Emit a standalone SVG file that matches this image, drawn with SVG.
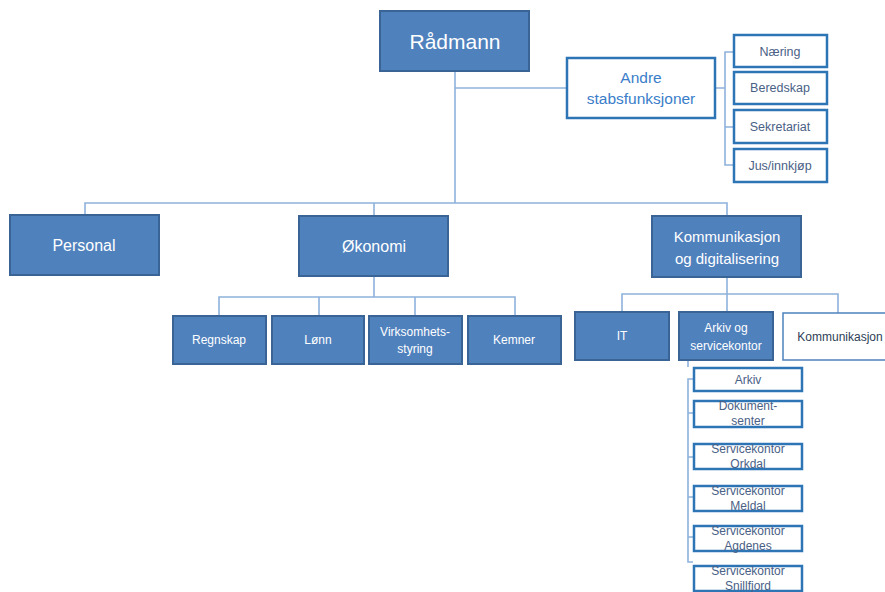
<svg xmlns="http://www.w3.org/2000/svg" width="885" height="592" viewBox="0 0 885 592">
<style>
.f{fill:#4F81BD;stroke:#3B6496;stroke-width:2}
.w{fill:#fff;stroke:#2E75B6;stroke-width:2.5}
.wt{fill:#fff;stroke:#4F81BD;stroke-width:1.5}
.c{fill:none;stroke:#8EB1DC;stroke-width:1.6}
text{font-family:"Liberation Sans","DejaVu Sans",sans-serif;text-anchor:middle}
.tw{fill:#fff}
.tb{fill:#3A7DC9}
.tg{fill:#4A6186}
.td{fill:#2E3E56}
</style>
<rect width="885" height="592" fill="#fff"/>
<g id="connectors" class="c">
<path d="M455 71V203M455 88H566"/>
<path d="M85 215V203H727V216M374 203V216"/>
<path d="M715 88H725M733 52H725V165H733M725 127H733"/>
<path d="M374 276V297M219 316V297H515V316M319 297V316M415 297V316"/>
<path d="M727 277V294M622 312V294H838V313M727 294V312"/>
<path d="M693 379H688V562H693M688 413H693M688 457H693M688 497H693M688 537H693"/>
<path d="M688 360V367"/>
</g>
<g id="radmann"><rect class="f" x="380" y="11" width="149" height="60"/><text class="tw" x="455" y="49" font-size="21">Rådmann</text></g>
<g id="andre"><rect class="w" x="567" y="58" width="148" height="60"/><text class="tb" x="641" y="83" font-size="15.5">Andre</text><text class="tb" x="641" y="104" font-size="15.5">stabsfunksjoner</text></g>
<g id="naering"><rect class="w" x="734" y="35" width="93" height="32"/><text class="tg" x="780" y="56" font-size="12.5">Næring</text></g>
<g id="beredskap"><rect class="w" x="734" y="72" width="93" height="32"/><text class="tg" x="780" y="92" font-size="12.5">Beredskap</text></g>
<g id="sekretariat"><rect class="w" x="734" y="110" width="93" height="33"/><text class="tg" x="780" y="131" font-size="12.5">Sekretariat</text></g>
<g id="jus"><rect class="w" x="734" y="149" width="93" height="33"/><text class="tg" x="780" y="170" font-size="12.5">Jus/innkjøp</text></g>
<g id="personal"><rect class="f" x="10" y="215" width="149" height="60"/><text class="tw" x="84" y="251" font-size="16">Personal</text></g>
<g id="okonomi"><rect class="f" x="299" y="216" width="149" height="60"/><text class="tw" x="374" y="252" font-size="16">Økonomi</text></g>
<g id="kommdig"><rect class="f" x="652" y="216" width="149" height="61"/><text class="tw" x="727" y="242" font-size="15">Kommunikasjon</text><text class="tw" x="727" y="264" font-size="15">og digitalisering</text></g>
<g id="regnskap"><rect class="f" x="173" y="316" width="93" height="48"/><text class="tw" x="219" y="344" font-size="12">Regnskap</text></g>
<g id="lonn"><rect class="f" x="272" y="316" width="92" height="48"/><text class="tw" x="318" y="344" font-size="12">Lønn</text></g>
<g id="virksomhet"><rect class="f" x="369" y="316" width="93" height="48"/><text class="tw" x="415" y="336" font-size="12">Virksomhets-</text><text class="tw" x="415" y="353" font-size="12">styring</text></g>
<g id="kemner"><rect class="f" x="468" y="316" width="93" height="48"/><text class="tw" x="514" y="344" font-size="12">Kemner</text></g>
<g id="it"><rect class="f" x="575" y="312" width="94" height="48"/><text class="tw" x="622" y="340" font-size="12">IT</text></g>
<g id="arkivservice"><rect class="f" x="679" y="312" width="94" height="48"/><text class="tw" x="726" y="332" font-size="12">Arkiv og</text><text class="tw" x="726" y="350" font-size="12">servicekontor</text></g>
<g id="kommunikasjon"><rect class="wt" x="783" y="313" width="110" height="47"/><text class="td" x="840" y="341" font-size="12">Kommunikasjon</text></g>
<g id="arkiv"><rect class="w" x="694" y="368" width="108" height="23"/><text class="tg" x="748" y="384" font-size="12">Arkiv</text></g>
<g id="dokument"><rect class="w" x="694" y="401" width="108" height="26"/><text class="tg" x="748" y="410" font-size="12">Dokument-</text><text class="tg" x="748" y="425" font-size="12">senter</text></g>
<g id="orkdal"><rect class="w" x="694" y="444" width="108" height="25"/><text class="tg" x="748" y="453" font-size="12">Servicekontor</text><text class="tg" x="748" y="468" font-size="12">Orkdal</text></g>
<g id="meldal"><rect class="w" x="694" y="486" width="108" height="25"/><text class="tg" x="748" y="495" font-size="12">Servicekontor</text><text class="tg" x="748" y="510" font-size="12">Meldal</text></g>
<g id="agdenes"><rect class="w" x="694" y="526" width="108" height="25"/><text class="tg" x="748" y="535" font-size="12">Servicekontor</text><text class="tg" x="748" y="550" font-size="12">Agdenes</text></g>
<g id="snillfjord"><rect class="w" x="694" y="566" width="108" height="25"/><text class="tg" x="748" y="575" font-size="12">Servicekontor</text><text class="tg" x="748" y="590" font-size="12">Snillfjord</text></g>
</svg>
